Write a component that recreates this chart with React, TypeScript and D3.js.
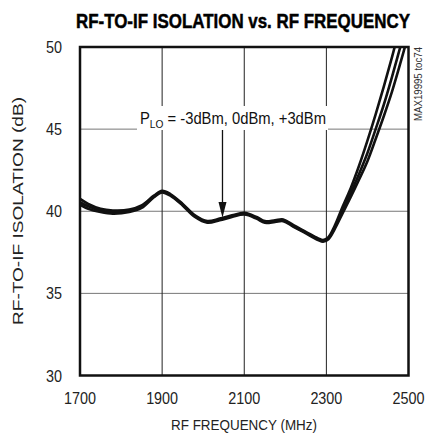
import React from "react";
import * as d3 from "d3";

const freqs = [1700, 1720, 1750, 1780, 1820, 1850, 1880, 1900, 1920, 1950, 1980, 2010, 2040, 2070, 2100, 2130, 2150, 2175, 2195, 2220, 2250, 2280, 2292, 2305, 2320, 2340, 2360, 2380, 2400, 2420, 2440, 2460, 2480, 2500];
const isoM3 = [40.75, 40.45, 40.15, 40.05, 40.1, 40.35, 40.95, 41.25, 41.05, 40.45, 39.75, 39.4, 39.55, 39.75, 39.9, 39.65, 39.4, 39.45, 39.5, 39.15, 38.75, 38.35, 38.25, 38.42, 39.1, 40.3, 41.45, 42.8, 44.3, 45.9, 47.6, 49.4, 51.3, 53.2];
const iso0 = [40.55, 40.3, 40.05, 39.95, 40.05, 40.3, 40.9, 41.2, 41.0, 40.4, 39.7, 39.35, 39.5, 39.7, 39.85, 39.6, 39.35, 39.4, 39.45, 39.1, 38.7, 38.3, 38.2, 38.35, 39.0, 40.1, 41.15, 42.3, 43.55, 45.0, 46.5, 48.2, 50.0, 51.8];
const isoP3 = [40.4, 40.15, 39.95, 39.85, 39.95, 40.2, 40.85, 41.15, 40.95, 40.35, 39.65, 39.3, 39.45, 39.65, 39.8, 39.55, 39.3, 39.35, 39.4, 39.05, 38.65, 38.25, 38.15, 38.3, 38.9, 39.9, 40.9, 41.95, 43.05, 44.4, 45.8, 47.3, 49.0, 50.8];
const seriesList = [isoM3, iso0, isoP3];

const xTicks = [1700, 1900, 2100, 2300, 2500];
const yTicks = [30, 35, 40, 45, 50];

const title = "RF-TO-IF ISOLATION vs. RF FREQUENCY";
const xTitle = "RF FREQUENCY (MHz)";
const yTitle = "RF-TO-IF ISOLATION (dB)";
const sideNote = "MAX19995 toc74";
const annotationFreq = 2047;
const annotationValue = 39.55;

export default function App() {
  const W = 428, H = 433;
  const L = 80, R = 408.5, T = 47, B = 375.5;
  const x = d3.scaleLinear().domain([1700, 2500]).range([L, R]);
  const y = d3.scaleLinear().domain([30, 50]).range([B, T]);
  const line = d3
    .line<number>()
    .x((_, i) => x(freqs[i]))
    .y((d) => y(d))
    .curve(d3.curveCatmullRom.alpha(0.5));
  const font = "'Liberation Sans', Arial, sans-serif";
  const ax = x(annotationFreq);
  return (
    <svg width={W} height={H} style={{ position: "absolute", left: 0, top: 0, background: "#fff" }}>
      <defs>
        <clipPath id="plotclip">
          <rect x={L} y={T} width={R - L} height={B - T} />
        </clipPath>
      </defs>
      <text x={243} y={28} fontFamily={font} fontWeight="bold" fontSize={21} textAnchor="middle" textLength={334} lengthAdjust="spacingAndGlyphs" fill="#000" stroke="#000" strokeWidth={0.5}>
        {title}
      </text>
      {/* gridlines */}
      {yTicks.slice(1, -1).map((t) => (
        <line key={"gy" + t} x1={L} x2={R} y1={y(t)} y2={y(t)} stroke="#777" strokeWidth={1} />
      ))}
      {xTicks.slice(1, -1).map((t) => (
        <line key={"gx" + t} x1={x(t)} x2={x(t)} y1={T} y2={B} stroke="#222" strokeWidth={1} />
      ))}
      {/* annotation box */}
      <rect x={137} y={106} width={191} height={24} fill="#fff" />
      <text x={140} y={124} fontFamily={font} fontSize={16} textLength={186} lengthAdjust="spacingAndGlyphs" fill="#111">
        P<tspan fontSize={11} dy={4}>LO</tspan><tspan dy={-4}> = -3dBm, 0dBm, +3dBm</tspan>
      </text>
      <line x1={ax} x2={ax} y1={130} y2={205} stroke="#111" strokeWidth={1.3} />
      <path d={`M${ax - 4},${202} L${ax + 4},${202} L${ax},${y(annotationValue) - 1} Z`} fill="#111" />
      {/* curves */}
      <g clipPath="url(#plotclip)">
        {seriesList.map((s, i) => (
          <path key={i} d={line(s) || ""} fill="none" stroke="#111" strokeWidth={2.6} strokeLinejoin="round" />
        ))}
      </g>
      {/* frame */}
      <rect x={L} y={T} width={R - L} height={B - T} fill="none" stroke="#111" strokeWidth={2.5} />
      {/* tick labels */}
      {xTicks.map((t) => (
        <text key={"xt" + t} x={x(t)} y={404} fontFamily={font} fontSize={17} textAnchor="middle" fill="#222" textLength={32} lengthAdjust="spacingAndGlyphs">
          {t}
        </text>
      ))}
      {yTicks.map((t) => (
        <text key={"yt" + t} x={62} y={y(t) + 6} fontFamily={font} fontSize={17} textAnchor="end" fill="#222" textLength={16} lengthAdjust="spacingAndGlyphs">
          {t}
        </text>
      ))}
      <text x={244} y={430} fontFamily={font} fontSize={15} textAnchor="middle" fill="#222" textLength={146} lengthAdjust="spacingAndGlyphs">
        {xTitle}
      </text>
      <text transform={`translate(23,${211}) rotate(-90)`} fontFamily={font} fontSize={15} textAnchor="middle" fill="#222" textLength={228} lengthAdjust="spacingAndGlyphs">
        {yTitle}
      </text>
      <text transform={`translate(422,${84}) rotate(-90)`} fontFamily={font} fontSize={10} textAnchor="middle" fill="#333" textLength={74} lengthAdjust="spacingAndGlyphs">
        {sideNote}
      </text>
    </svg>
  );
}
